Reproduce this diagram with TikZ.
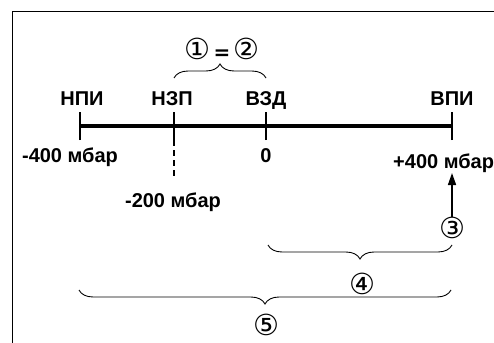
\documentclass[tikz,border=0pt]{standalone}
\usepackage{fontspec}
\setmainfont{Liberation Sans}
\newfontfamily\symfont{DejaVu Sans}
\usetikzlibrary{decorations.pathreplacing,arrows.meta}
\begin{document}
\begin{tikzpicture}[x=1pt,y=-1pt,
  lbl/.style={font=\fontsize{20}{22}\selectfont\bfseries, anchor=base, inner sep=0pt},
  circ/.style={font=\fontsize{29}{31}\selectfont\symfont, inner sep=0pt},
  tick/.style={line width=1.5pt},
  brc/.style={decorate, decoration={brace, amplitude=14pt}, line width=0.9pt}]
\useasboundingbox (0,0) rectangle (494,342);
% frame (partly outside)
\draw[line width=1pt] (12,360) -- (12,12) -- (520,12);
% axis
\coordinate (a1) at (80,126);
\coordinate (a2) at (174,126);
\coordinate (a3) at (266,126);
\coordinate (a4) at (452,126);
\draw[line width=4.5pt] (a1) -- (a4);
\foreach \p in {a1,a2,a3,a4}{\draw[tick] ([yshift=-14pt]\p) -- ([yshift=14pt]\p);}
\draw[tick, dash pattern=on 6pt off 4pt] ([yshift=-14pt]a2) -- ([yshift=-52pt]a2);
% top labels
\node[lbl] (npi) at (82,106) {НПИ};
\node[lbl] (nzp) at (172,106) {НЗП};
\node[lbl] (vzd) at (266,106) {ВЗД};
\node[lbl] (vpi) at (452,106) {ВПИ};
% bottom labels
\node[lbl] (m400) at (70,162) {-400 мбар};
\node[lbl] (zero) at (266,162) {0};
\node[lbl, anchor=base west] (p400) at (393,168) {+400 мбар};
\node[lbl] (m200) at (173,207) {-200 мбар};
% circled numbers
\node[circ] (c12) at (222,49) {①{\fontsize{20}{22}\selectfont\bfseries\,=\,}②};
\node[circ] (c3) at (452,228) {③};
\node[circ] (c4) at (362,284) {④};
\node[circ] (c5) at (266,325) {⑤};
% braces
\draw[brc] (174,78) -- (266,78);
\draw[brc] (452,245) -- (268,245);
\draw[brc] (451,290) -- (79,290);
% arrow
\draw[line width=1.5pt, -{Triangle[length=12pt,width=8pt]}] (c3.north) -- (452,173);
\end{tikzpicture}
\end{document}
